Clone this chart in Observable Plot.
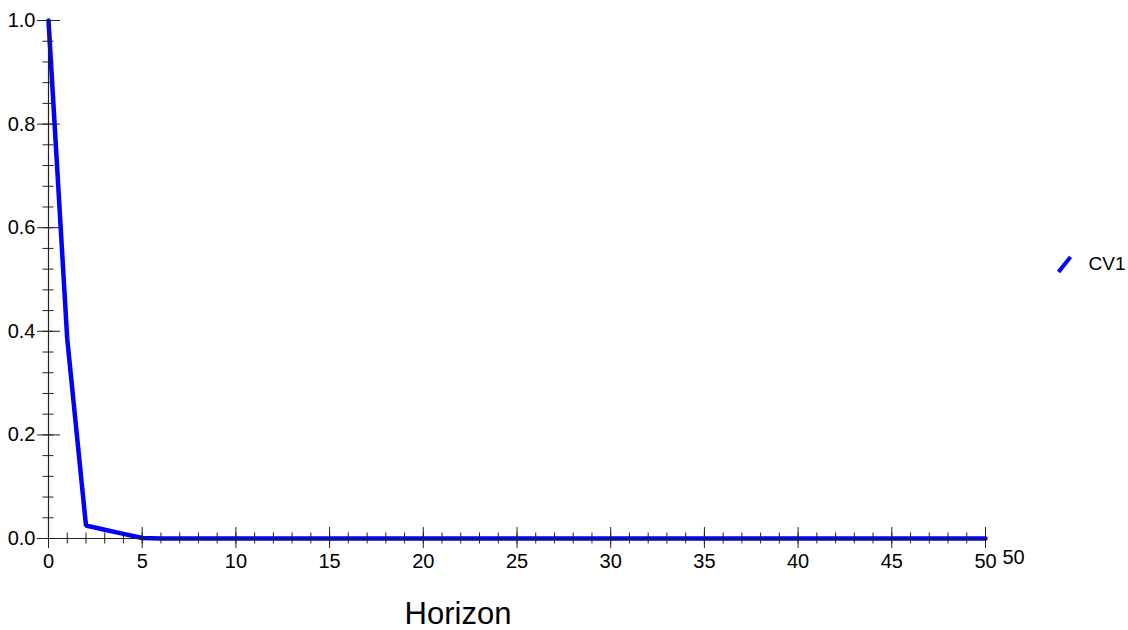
<!DOCTYPE html>
<html>
<head>
<meta charset="utf-8">
<script src="https://cdn.jsdelivr.net/npm/d3@7"></script>
<script src="https://cdn.jsdelivr.net/npm/@observablehq/plot@0.6"></script>
<style>
  html, body { margin: 0; padding: 0; background: #fff; }
  #chart svg { display: block; }
</style>
</head>
<body>
<div id="chart"></div>
<script>
// Data
const horizon = d3.range(0, 51);
const cv1Head = [1.0, 0.385, 0.025, 0.017, 0.009, 0.001];
const cv1 = horizon.map((h, i) => (i < cv1Head.length ? cv1Head[i] : 0));
const seriesName = "CV1";
const xLabel = "Horizon";
const xMajorTicks = d3.range(0, 51, 5);
const xMinorTicks = d3.range(0, 51, 1);
const yMajorTicks = [0, 0.2, 0.4, 0.6, 0.8, 1.0];
const yMinorTicks = d3.range(0, 26).map(i => i * 0.04);
const xEndLabel = ["50"];

const rows = horizon.map((h, i) => ({h, v: cv1[i]}));
const font = "Liberation Sans, Arial, Helvetica, sans-serif";
const axisColor = "#222";

const slash = {
  draw(context) {
    context.moveTo(-6, 7.5);
    context.lineTo(6, -7.5);
  }
};

const chart = Plot.plot({
  width: 1128,
  height: 630,
  marginLeft: 48,
  marginRight: 143,
  marginTop: 20,
  marginBottom: 92,
  style: {fontFamily: font, fontSize: "20px", background: "#fff", color: "#000"},
  x: {domain: [0, 50]},
  y: {domain: [0, 1]},
  marks: [
    Plot.line(rows, {x: "h", y: "v", stroke: "#0000ff", strokeWidth: 4.5, strokeLinejoin: "miter"}),
    Plot.ruleY([0], {stroke: axisColor, strokeWidth: 1.2}),
    Plot.ruleX([0], {stroke: axisColor, strokeWidth: 1.2}),
    // x minor ticks
    Plot.axisX({anchor: "bottom", ticks: xMinorTicks, tickSize: 11, dy: -5.5, text: null, label: null, stroke: axisColor}),
    // x major ticks
    Plot.axisX({anchor: "bottom", ticks: xMajorTicks, tickSize: 21, dy: -11, text: null, label: null, stroke: axisColor}),
    // x labels
    Plot.axisX({anchor: "bottom", ticks: xMajorTicks, tickSize: 0, tickPadding: 15, label: null, fontSize: 20, fill: "#000", tickFormat: d3.format("d")}),
    // y minor ticks
    Plot.axisY({anchor: "left", ticks: yMinorTicks, tickSize: 11, dx: 5.5, text: null, label: null, stroke: axisColor}),
    // y major ticks
    Plot.axisY({anchor: "left", ticks: yMajorTicks, tickSize: 23, dx: 12, text: null, label: null, stroke: axisColor}),
    // y labels
    Plot.axisY({anchor: "left", ticks: yMajorTicks, tickSize: 0, tickPadding: 13, label: null, fontSize: 20, fill: "#000", tickFormat: d3.format(".1f")}),
    // extra end label
    Plot.text(xEndLabel, {x: () => 50, y: () => 0, text: d => d, dx: 28, dy: 19, fontSize: 20, fill: "#000"}),
    // axis title
    Plot.text([xLabel], {frameAnchor: "bottom", text: d => d, dx: -59, dy: 85, fontSize: 31, fill: "#000"}),
    // legend
    Plot.dot([seriesName], {frameAnchor: "right", symbol: slash, stroke: "#0000ff", strokeWidth: 4, fill: "none", dx: 79, dy: -15}),
    Plot.text([seriesName], {frameAnchor: "right", text: d => d, textAnchor: "start", dx: 103, dy: -16, fontSize: 19, fill: "#000"})
  ]
});
document.getElementById("chart").append(chart);
</script>
</body>
</html>
